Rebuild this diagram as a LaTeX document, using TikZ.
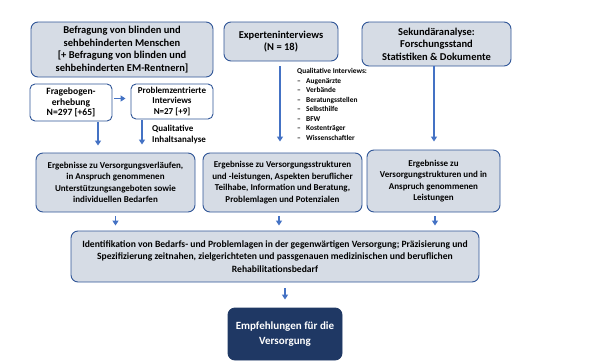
\documentclass[tikz,border=0pt]{standalone}
\usepackage{fontspec}
\setmainfont{Carlito}
\usetikzlibrary{arrows.meta,positioning}
\definecolor{boxfill}{HTML}{D6DCE5}
\definecolor{boxline}{HTML}{2F5597}
\definecolor{flowblue}{HTML}{4472C4}
\definecolor{darkbox}{HTML}{1F3864}
\tikzset{
  graybox/.style={draw=boxline, fill=boxfill, rounded corners=7pt, line width=0.9pt,
    align=center, inner sep=1pt, font=\bfseries\fontsize{9}{11.5}\selectfont},
  whitebox/.style={graybox, fill=white, rounded corners=5pt},
  bigtext/.style={font=\bfseries\fontsize{10.5}{12.5}\selectfont},
  flow/.style={-{Triangle[width=6pt,length=5pt]}, flowblue, line width=1.4pt},
}
\begin{document}
\begin{tikzpicture}[x=1pt,y=-1pt]
\useasboundingbox (0,0) rectangle (600,362);
% top row
\node[graybox,bigtext,minimum width=182,minimum height=55] (befr) at (122,49.5)
  {Befragung von blinden und\\sehbehinderten Menschen\\{[}+ Befragung von blinden und\\sehbehinderten EM-Rentnern]};
\node[graybox,bigtext,minimum width=114,minimum height=39] (expert) at (281,41.5)
  {Experteninterviews\\(N = 18)};
\node[graybox,bigtext,minimum width=149,minimum height=44] (sekund) at (436.5,44)
  {Sekundäranalyse:\\Forschungsstand\\Statistiken \& Dokumente};
% methods
\node[whitebox,font=\bfseries\fontsize{9.6}{10.7}\selectfont,minimum width=82,minimum height=37] (frage) at (71,102.5)
  {Fragebogen-\\erhebung\\N=297 [+65]};
\node[whitebox,font=\bfseries\fontsize{9}{10.7}\selectfont,minimum width=82,minimum height=35] (probl) at (172,101.5)
  {Problemzentrierte\\Interviews\\N=27 [+9]};
\node[anchor=west,align=left,inner sep=0pt,font=\bfseries\fontsize{9}{11}\selectfont] (inhalt) at (152,134.5)
  {Qualitative\\Inhaltsanalyse};
\node[anchor=north west,align=left,inner sep=0pt,font=\bfseries\fontsize{7.4}{9.5}\selectfont] (liste) at (297,68.5)
  {Qualitative Interviews:\\
   \makebox[9pt][l]{--}Augenärzte\\
   \makebox[9pt][l]{--}Verbände\\
   \makebox[9pt][l]{--}Beratungsstellen\\
   \makebox[9pt][l]{--}Selbsthilfe\\
   \makebox[9pt][l]{--}BFW\\
   \makebox[9pt][l]{--}Kostenträger\\
   \makebox[9pt][l]{--}Wissenschaftler};
% results
\node[graybox,minimum width=159,minimum height=59] (erg1) at (115.5,182.5)
  {Ergebnisse zu Versorgungsverläufen,\\in Anspruch genommenen\\Unterstützungsangeboten sowie\\individuellen Bedarfen};
\node[graybox,minimum width=159,minimum height=59] (erg2) at (282.5,182.5)
  {Ergebnisse zu Versorgungsstrukturen\\und -leistungen, Aspekten beruflicher\\Teilhabe, Information und Beratung,\\Problemlagen und Potenzialen};
\node[graybox,minimum width=133,minimum height=62] (erg3) at (433.5,181)
  {Ergebnisse zu\\Versorgungstrukturen und in\\Anspruch genommenen\\Leistungen};
\node[graybox,font=\bfseries\fontsize{9.6}{12.7}\selectfont,minimum width=408,minimum height=51] (ident) at (275,256.5)
  {Identifikation von Bedarfs- und Problemlagen in der gegenwärtigen Versorgung; Präzisierung und\\Spezifizierung zeitnahen, zielgerichteten und passgenauen medizinischen und beruflichen\\Rehabilitationsbedarf};
\node[graybox,font=\bfseries\fontsize{11}{15.5}\selectfont,fill=darkbox,draw=darkbox,text=white,minimum width=114,minimum height=52] (empf) at (285,334)
  {Empfehlungen für die\\Versorgung};
% arrows
\draw[flow,shorten <=2pt,shorten >=5pt] ([yshift=4pt]frage.east) -- ([yshift=4pt]frage.east -| probl.west);
\draw[flow,shorten <=1pt,shorten >=7pt] ([xshift=27pt]frage.south) -- ([xshift=27pt]frage.south |- erg1.north);
\draw[flow,shorten <=1pt,shorten >=8pt] ([xshift=-30pt]probl.south) -- ([xshift=-30pt]probl.south |- erg1.north);
\draw[flow,shorten <=5pt,shorten >=11pt] ([xshift=-1pt]expert.south) -- ([xshift=-1pt]expert.south |- erg2.north);
\draw[flow,shorten >=8pt] ([xshift=-2.5pt]sekund.south) -- ([xshift=-2.5pt]sekund.south |- erg3.north);
\draw[flow,shorten <=4pt,shorten >=5pt] (erg1.south) -- (erg1.south |- ident.north);
\draw[flow,shorten <=4pt,shorten >=5pt] ([xshift=-3.5pt]erg2.south) -- ([xshift=-3.5pt]erg2.south |- ident.north);
\draw[flow,shorten <=4pt,shorten >=5pt] ([xshift=1.5pt]erg3.south) -- ([xshift=1.5pt]erg3.south |- ident.north);
\draw[flow,shorten <=6pt,shorten >=8pt] (ident.south -| empf.north) -- (empf.north);
\end{tikzpicture}
\end{document}
